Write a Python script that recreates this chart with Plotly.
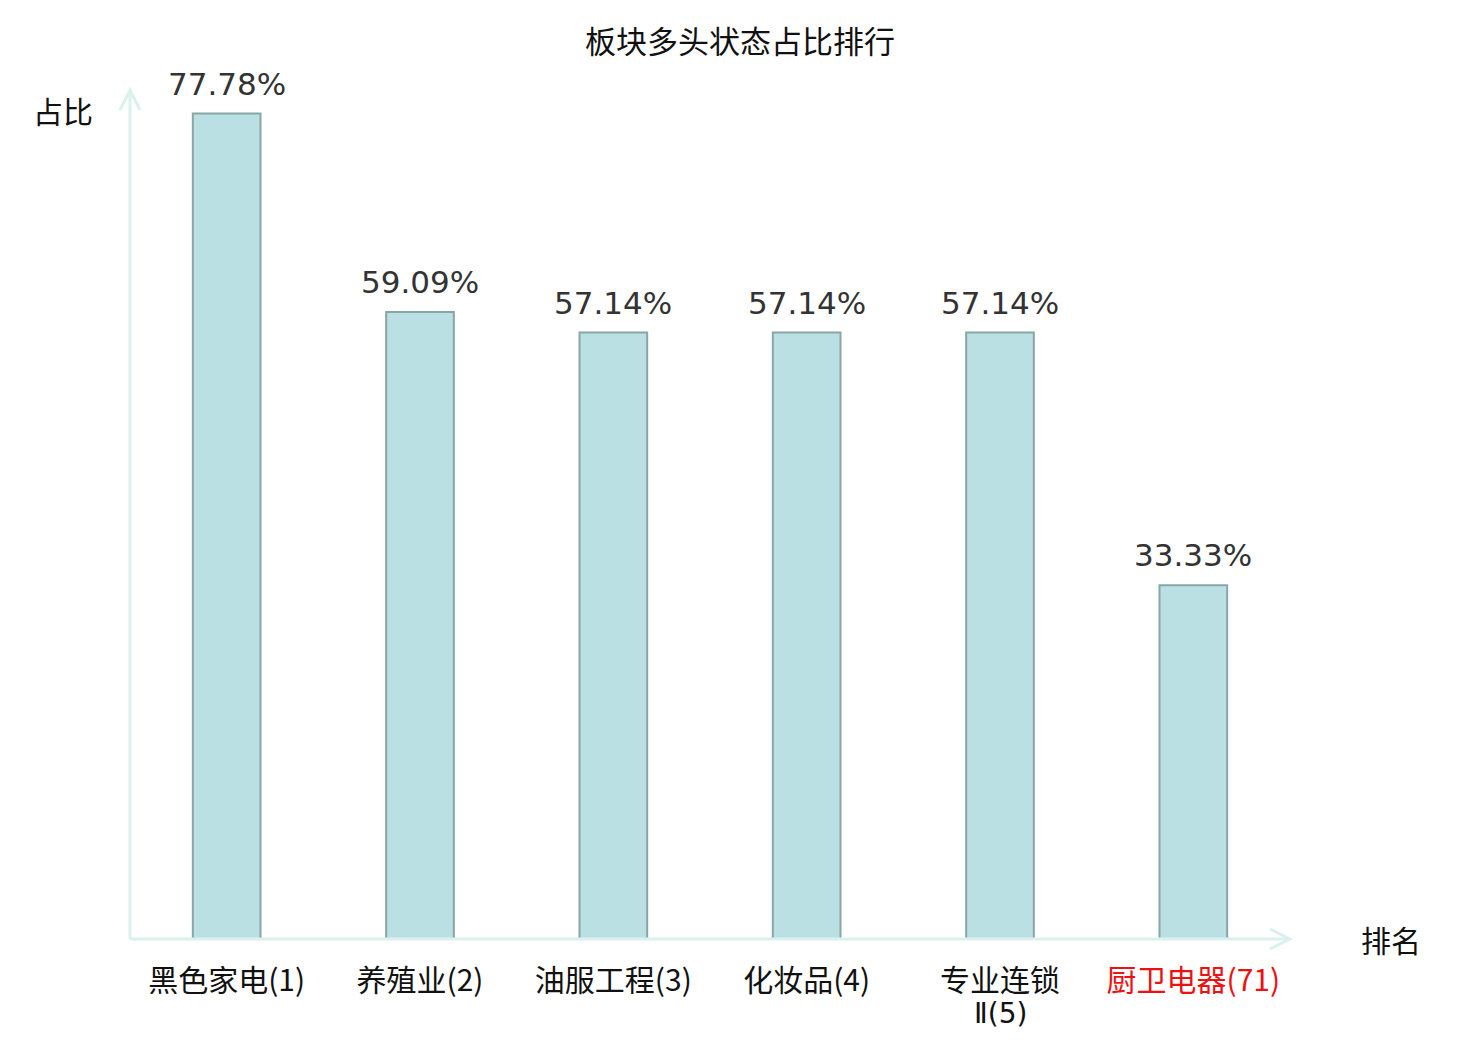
import plotly.graph_objects as go

# 板块多头状态占比排行
sectors = ["黑色家电(1)", "养殖业(2)", "油服工程(3)", "化妆品(4)", "专业连锁", "厨卫电器(71)"]
sector_line2 = ["", "", "", "", "Ⅱ(5)", ""]
ratios = [77.78, 59.09, 57.14, 57.14, 57.14, 33.33]
highlight = [False, False, False, False, False, True]

# page has an 8px body margin, so the figure is a bit smaller than the window
W, H = 1464, 1024
ml, mt = 122, 82
pw, ph = 1160, 849
mr, mb = W - ml - pw, H - mt - ph
axis_col = "#dbf1ee"
label_font = dict(family="Noto Sans CJK SC", size=30, color="#111111")

ticktext = [
    f"<span style='color:#ee1111'>{s}</span>" if h else s
    for s, h in zip(sectors, highlight)
]

fig = go.Figure(go.Bar(
    x=list(range(len(sectors))),
    y=ratios,
    width=0.35,
    marker=dict(color="#bbe0e3", line=dict(color="#8aa5a6", width=2)),
    hoverinfo="skip",
))

# value labels above bars
for i, v in enumerate(ratios):
    fig.add_annotation(x=i, y=v, text=f"{v:.2f}%", showarrow=False,
                       yanchor="bottom", yshift=10,
                       font=dict(family="DejaVu Sans", size=31, color="#333333"))

# wrapped second line of long category names (tighter than <br> spacing)
for i, s in enumerate(sector_line2):
    if s:
        fig.add_annotation(x=i, xref="x", yref="paper", y=0, text=s, showarrow=False,
                           yanchor="middle", yshift=-74,
                           font=dict(family="DejaVu Sans", size=28, color="#111111"))

# axis lines with open arrow heads
ax_x, ax_y = 20 / pw, 20 / ph
hx, hy = 10 / pw, 10 / ph
shapes = [
    dict(type="line", xref="paper", yref="paper", x0=0, y0=0, x1=1, y1=0,
         line=dict(color=axis_col, width=3)),
    dict(type="line", xref="paper", yref="paper", x0=0, y0=0, x1=0, y1=1,
         line=dict(color=axis_col, width=3)),
    dict(type="path", xref="paper", yref="paper",
         path=f"M {1-ax_x} {hy} L 1 0 L {1-ax_x} {-hy}",
         line=dict(color=axis_col, width=3)),
    dict(type="path", xref="paper", yref="paper",
         path=f"M {-hx} {1-ax_y} L 0 1 L {hx} {1-ax_y}",
         line=dict(color=axis_col, width=3)),
]

fig.add_annotation(xref="paper", yref="paper", x=-67 / pw, y=1 - 20 / ph,
                   text="占比", showarrow=False, xanchor="center", yanchor="middle",
                   font=label_font)
fig.add_annotation(xref="paper", yref="paper", x=1 + 101 / pw, y=0,
                   text="排名", showarrow=False, xanchor="center", yanchor="middle",
                   font=label_font)

fig.update_layout(
    width=W, height=H,
    margin=dict(l=ml, r=mr, t=mt, b=mb),
    paper_bgcolor="white", plot_bgcolor="white",
    title=dict(text="板块多头状态占比排行", x=(740 - 8) / W, xanchor="center",
               y=1 - 34 / H, yanchor="middle",
               font=dict(family="Noto Sans CJK SC", size=31, color="#111111")),
    xaxis=dict(range=[-0.5, len(sectors) - 0.5], tickvals=list(range(len(sectors))),
               ticktext=ticktext, showline=False, showgrid=False, zeroline=False,
               ticks="outside", ticklen=15, tickcolor="rgba(0,0,0,0)",
               automargin=False, tickfont=label_font),
    yaxis=dict(range=[0, 80], showticklabels=False, showgrid=False, zeroline=False,
               showline=False, ticks="", automargin=False),
    shapes=shapes,
    showlegend=False,
)

fig.write_html("out.html")
